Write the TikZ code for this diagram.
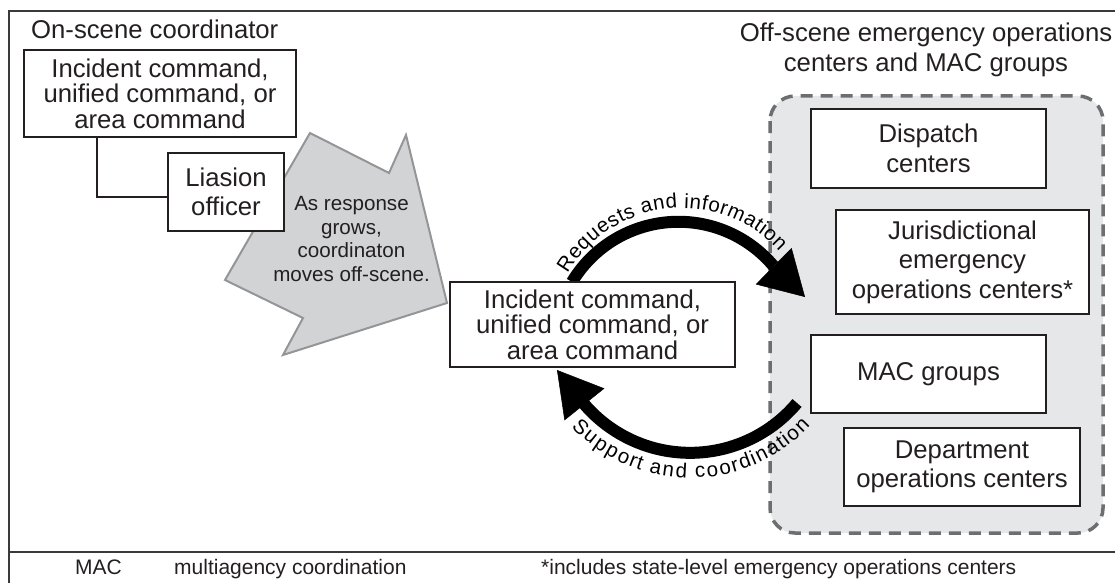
\documentclass[tikz,border=0pt]{standalone}
\usepackage{fontspec}
\setmainfont{Liberation Sans}
\usetikzlibrary{arrows.meta,decorations.text,calc}

\definecolor{ink}{HTML}{231F20}
\definecolor{framegray}{HTML}{3A3A3A}
\definecolor{zonefill}{HTML}{E6E7E8}
\definecolor{zonedash}{HTML}{6D6E71}
\definecolor{shiftfill}{HTML}{D1D3D4}
\definecolor{shiftline}{HTML}{939598}

\newcommand{\boxfont}{\fontsize{25.7}{25.5}\selectfont}
\newcommand{\boxfontloose}{\fontsize{25.7}{29.5}\selectfont}
\newcommand{\arcfont}{\fontsize{20.5}{22}\selectfont}
\newcommand{\notefont}{\fontsize{20.6}{23.5}\selectfont}
\newcommand{\footfont}{\fontsize{21}{24}\selectfont}

\begin{document}
\begin{tikzpicture}[x=1pt,y=1pt,
  unit/.style={draw=ink, line width=2.4pt, fill=white, inner sep=0pt,
               align=center, text=ink},
  frameline/.style={draw=framegray, line width=2.5pt},
  link/.style={draw=ink, line width=2.4pt},
  flow/.style={draw=black, line width=12pt,
               -{Triangle[length=44pt,width=51pt,line width=0.5pt]}},
  caption/.style={text=ink, inner sep=0pt}
]
\useasboundingbox (0,0) rectangle (1115,-583);

% outer frame and footer rule
\draw[frameline] (1115,-11) -- (9,-11) -- (9,-583);
\draw[frameline] (9,-552) -- (1115,-552);

% off-scene zone
\draw[fill=zonefill, draw=zonedash, line width=3.5pt, dash pattern=on 12pt off 8pt,
      rounded corners=25pt] (770,-96) rectangle (1103,-533);

% shift of coordination (large gray arrow)
\draw[fill=shiftfill, draw=shiftline, line width=2pt, line join=miter]
  (310,-133) -- (389,-173) -- (406,-135) -- (447,-303) -- (283,-355)
  -- (303,-318) -- (225,-280) -- cycle;
\node[caption, font=\notefont, align=center] (shiftnote) at (351.5,-239)
  {As response\\grows,\\coordinaton\\moves off-scene.};

% titles
\node[caption, font=\boxfont, anchor=base west] (onscene) at (31,-39) {On-scene coordinator};
\node[caption, font=\boxfontloose, align=center] (offscene) at (926,-50)
  {Off-scene emergency operations\\centers and MAC groups};

% on-scene units
\node[unit, font=\boxfont, minimum width=272pt, minimum height=87pt] (ic1) at (160,-93.5)
  {Incident command,\\unified command, or\\area command};
\node[unit, font=\boxfontloose, minimum width=116pt, minimum height=78pt] (liaison) at (226,-192)
  {Liasion\\officer};
\draw[link] ([xshift=-63pt]ic1.south) |- ([yshift=-5pt]liaison.west);

% free ends of the flow arrows
\coordinate (reqtip) at (805,-297);
\coordinate (supstart) at (797,-403);
\coordinate (suptip) at (557,-370);

% centre command box position (drawn after the arrows)
\coordinate (icc) at (592.5,-324.5);

% requests and information
\draw[flow] ($(icc)+(-20.5,42.5)$) arc[start angle=149, end angle=40.2, radius=124.2] -- (reqtip);
\path[decorate, decoration={text along path, text align=center, raise=8pt,
      text={|\arcfont|Requests and information}}]
  ($(icc)+(-20.5,42.5)$) arc[start angle=152, end angle=40.2, radius=124.2];

% support and coordination
\draw[flow] (supstart) arc[start angle=-40, end angle=-139.4, radius=139.5] -- (suptip);
\path (supstart) arc[start angle=-40, end angle=-139.4, radius=139.5] coordinate (supend);
\path[decorate, decoration={text along path, text align=center, raise=-25pt,
      text={|\arcfont|Support and coordination}}]
  (supend) arc[start angle=-139.4, end angle=-40, radius=139.5];

\node[unit, font=\boxfont, minimum width=285pt, minimum height=85pt] (ic2) at (icc)
  {Incident command,\\unified command, or\\area command};

% off-scene units
\node[unit, font=\boxfontloose, minimum width=235pt, minimum height=79pt] (dispatch) at (928.5,-148.5)
  {Dispatch\\centers};
\node[unit, font=\boxfontloose, minimum width=253pt, minimum height=104pt] (juris) at (962.5,-262)
  {Jurisdictional\\emergency\\operations centers*};
\node[unit, font=\boxfontloose, minimum width=235pt, minimum height=78pt] (macg) at (928.5,-374)
  {MAC groups};
\node[unit, font=\boxfontloose, minimum width=236pt, minimum height=78pt] (dept) at (962,-467)
  {Department\\operations centers};

% footer
\node[caption, font=\footfont, anchor=base west] (macabbr) at (75,-574) {MAC};
\node[caption, font=\footfont, anchor=base west] (macdef) at (174,-574) {multiagency coordination};
\node[caption, font=\footfont, anchor=base west] (footnote) at (541,-574)
  {*includes state-level emergency operations centers};
\end{tikzpicture}
\end{document}
